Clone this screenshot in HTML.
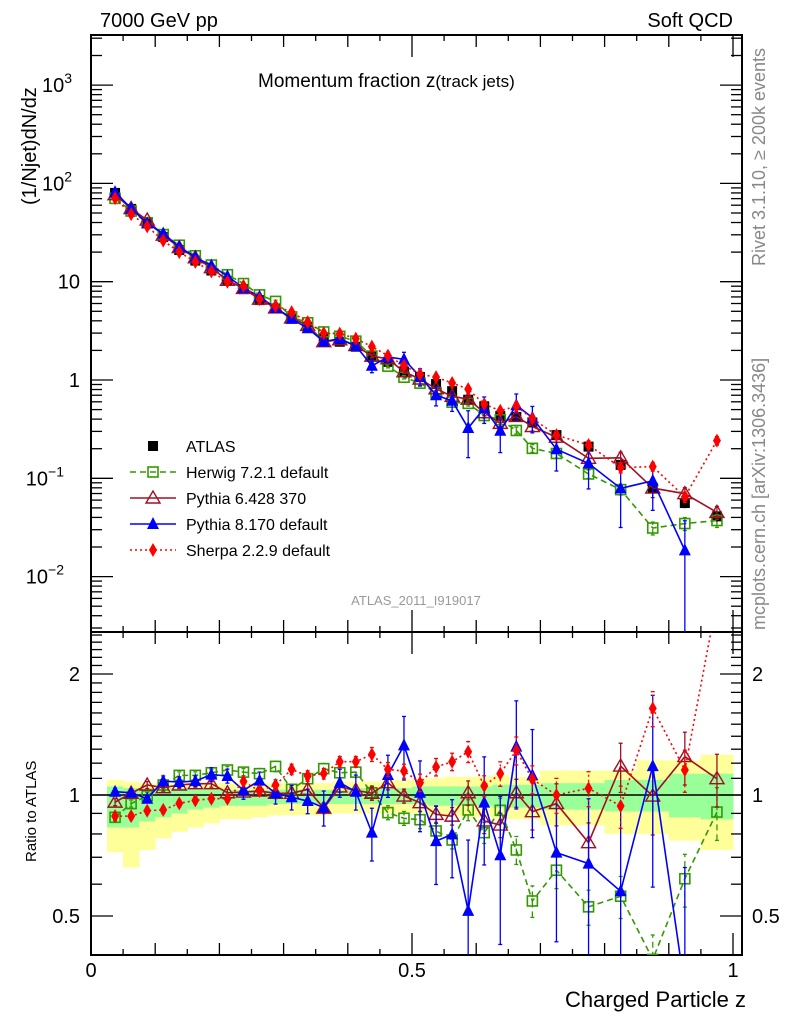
<!DOCTYPE html>
<html><head><meta charset="utf-8"><style>
html,body{margin:0;padding:0;background:#fff;overflow:hidden;width:786px;height:1024px}
svg{display:block;font-family:"Liberation Sans",sans-serif}
</style></head><body>
<svg id="c" width="786" height="1024" viewBox="0 0 786 1024" overflow="hidden">
<defs>
<clipPath id="cm"><rect x="91" y="35" width="651" height="597"/></clipPath>
<clipPath id="cr"><rect x="91" y="632" width="651" height="323"/></clipPath>
</defs>
<g id="bands" clip-path="url(#cr)"></g>
<g id="frames"></g>
<g id="mainMarks" clip-path="url(#cm)"></g>
<g id="ratioMarks" clip-path="url(#cr)"></g>
<text x="100" y="27" font-size="20">7000 GeV pp</text>
<text x="733" y="27" font-size="20" text-anchor="end">Soft QCD</text>
<text x="258" y="87" font-size="19">Momentum fraction z<tspan font-size="17">(track jets)</tspan></text>
<text transform="translate(36,205) rotate(-90)" font-size="20">(1/Njet)dN/dz</text>
<text transform="translate(36,862) rotate(-90)" font-size="15">Ratio to ATLAS</text>
<text transform="translate(765,266) rotate(-90)" font-size="18" fill="#888">Rivet 3.1.10, ≥ 200k events</text>
<text transform="translate(765,630) rotate(-90)" font-size="18" fill="#888">mcplots.cern.ch [arXiv:1306.3436]</text>
<text x="416" y="605" font-size="13" fill="#999" text-anchor="middle">ATLAS_2011_I919017</text>
<text x="746" y="1007" font-size="22" text-anchor="end">Charged Particle z</text>
<g id="legend"></g>
</svg>
<script>
const zc=[0.0375,0.0625,0.0875,0.1125,0.1375,0.1625,0.1875,0.2125,0.2375,0.2625,0.2875,0.3125,0.3375,0.3625,0.3875,0.4125,0.4375,0.4625,0.4875,0.5125,0.5375,0.5625,0.5875,0.6125,0.6375,0.6625,0.6875,0.725,0.775,0.825,0.875,0.925,0.975];
const zw=[0.0125,0.0125,0.0125,0.0125,0.0125,0.0125,0.0125,0.0125,0.0125,0.0125,0.0125,0.0125,0.0125,0.0125,0.0125,0.0125,0.0125,0.0125,0.0125,0.0125,0.0125,0.0125,0.0125,0.0125,0.0125,0.0125,0.0125,0.025,0.025,0.025,0.025,0.025,0.025];
const atlas=[80,55,40,28.5,21,16.4,13,10.2,8.4,6.5,5.35,4.24,3.48,2.65,2.45,2.18,1.73,1.53,1.22,1.07,0.91,0.77,0.63,0.54,0.43,0.42,0.37,0.275,0.21,0.137,0.08,0.056,0.041];
const yelHi=[1.09,1.08,1.07,1.07,1.07,1.07,1.07,1.07,1.07,1.07,1.07,1.07,1.07,1.07,1.08,1.08,1.08,1.08,1.09,1.10,1.10,1.11,1.11,1.11,1.12,1.11,1.11,1.15,1.15,1.15,1.22,1.22,1.26];
const yelLo=[0.72,0.66,0.73,0.78,0.81,0.83,0.85,0.87,0.87,0.88,0.89,0.89,0.89,0.89,0.90,0.90,0.90,0.90,0.90,0.90,0.89,0.89,0.88,0.88,0.87,0.87,0.87,0.84,0.84,0.80,0.80,0.77,0.73];
const grnHi=[1.05,1.04,1.04,1.04,1.04,1.04,1.04,1.03,1.03,1.03,1.03,1.03,1.03,1.03,1.03,1.04,1.04,1.04,1.04,1.05,1.05,1.05,1.05,1.05,1.06,1.06,1.06,1.07,1.07,1.09,1.09,1.13,1.13];
const grnLo=[0.83,0.83,0.86,0.88,0.90,0.92,0.93,0.94,0.94,0.94,0.95,0.95,0.95,0.95,0.95,0.95,0.95,0.95,0.95,0.95,0.94,0.94,0.94,0.94,0.93,0.93,0.93,0.92,0.92,0.91,0.91,0.88,0.87];
const herwigR=[0.88,0.952,0.995,1.059,1.119,1.119,1.136,1.154,1.14,1.13,1.178,1.033,1.098,1.163,1.136,1.14,1.013,0.904,0.875,0.868,0.814,0.773,0.918,0.806,0.916,0.73,0.545,0.65,0.527,0.56,0.39,0.619,0.907];
const pythia6R=[0.96,1.01,1.059,1.043,1.059,1.067,1.067,1.013,1.017,1.023,1.01,1.01,1.033,0.927,1.047,1.027,1.01,1.073,0.994,0.957,0.895,0.886,1.013,0.862,0.842,1.013,0.909,0.952,0.761,1.18,0.994,1.246,1.098];
const pythia8R=[1.019,1.013,0.979,1.083,1.077,1.083,1.124,1.115,1.027,1.086,1.01,0.987,0.966,0.93,1.073,1.019,0.806,1.121,1.329,1.013,0.768,0.798,0.515,0.957,0.708,1.319,1.119,0.719,0.675,0.576,1.18,0.33,null];
const sherpaR=[0.886,0.886,0.914,0.918,0.953,0.97,0.979,0.979,1.081,1.023,1.059,1.158,1.115,1.13,1.21,1.21,1.262,1.158,1.147,1.073,1.174,1.21,1.281,1.053,1.13,1.291,1.094,1.0,1.039,0.939,1.643,1.154,5.9];
const herwigE=[0.02,0.02,0.02,0.02,0.02,0.02,0.02,0.02,0.02,0.03,0.03,0.03,0.03,0.03,0.03,0.03,0.04,0.04,0.04,0.05,0.05,0.05,0.06,0.06,0.07,0.08,0.09,0.1,0.1,0.12,0.15,0.15,0.15];
const pythia6E=[0.02,0.02,0.02,0.02,0.02,0.02,0.02,0.02,0.02,0.02,0.03,0.03,0.03,0.03,0.03,0.03,0.04,0.04,0.04,0.05,0.05,0.05,0.07,0.07,0.07,0.08,0.1,0.12,0.12,0.14,0.2,0.15,0.15];
const pythia8E=[0.02,0.02,0.02,0.03,0.03,0.03,0.04,0.04,0.05,0.05,0.06,0.07,0.07,0.1,0.08,0.1,0.15,0.12,0.18,0.2,0.22,0.22,0.5,0.3,0.4,0.3,0.3,0.4,0.45,0.6,0.5,1.0,0];
const sherpaE=[0.02,0.02,0.02,0.02,0.02,0.02,0.02,0.02,0.02,0.02,0.03,0.03,0.03,0.03,0.03,0.03,0.04,0.04,0.04,0.05,0.05,0.05,0.06,0.06,0.07,0.08,0.08,0.1,0.1,0.12,0.1,0.12,0.1];
const yTicks=[{v:1000,t:'10',e:'3'},{v:100,t:'10',e:'2'},{v:10,t:'10',e:''},{v:1,t:'1',e:''},{v:0.1,t:'10',e:'−1'},{v:0.01,t:'10',e:'−2'}];
const rTicks=[2,1,0.5];
const xTickLabels=['0','0.5','1'];
const xTickVals=[0,0.5,1];

const NS='http://www.w3.org/2000/svg';
function X(z){return 91+642*z;}
function Y(v){return Math.min(700,380-98.3*Math.log10(v));}
function R(r){return Math.min(1000,Math.max(600,795-402*Math.log10(r)));}
function mk(tag,at,par){const e=document.createElementNS(NS,tag);for(const k in at)e.setAttribute(k,at[k]);par.appendChild(e);return e;}
const bands=document.getElementById('bands'),fr=document.getElementById('frames'),mm=document.getElementById('mainMarks'),rm=document.getElementById('ratioMarks'),lg=document.getElementById('legend');

zc.forEach((z,i)=>{
 let a=mk('rect',{x:X(z-zw[i]),y:R(yelHi[i]),width:X(z+zw[i])-X(z-zw[i])+0.5,height:R(yelLo[i])-R(yelHi[i]),fill:'#ffff99'},bands);
 
 
 let b=mk('rect',{x:X(z-zw[i]),y:R(grnHi[i]),width:X(z+zw[i])-X(z-zw[i])+0.5,height:R(grnLo[i])-R(grnHi[i]),fill:'#99ff99'},bands);
 
 
});

let f1=mk('rect',{x:91,y:35,width:651,height:597,fill:'none',stroke:'#000','stroke-width':2},fr);


let f2=mk('rect',{x:91,y:632,width:651,height:323,fill:'none',stroke:'#000','stroke-width':2},fr);


mk('line',{x1:91,x2:742,y1:R(1),y2:R(1),stroke:'#000','stroke-width':1.5},fr);
for(let d=-3;d<=3;d++){for(let m=1;m<10;m++){const v=m*Math.pow(10,d);const y=380-98.3*Math.log10(v);if(y<36||y>631)continue;const L=m==1?22:11;
 mk('line',{x1:91,x2:91+L,y1:y,y2:y,stroke:'#000','stroke-width':1.3},fr);mk('line',{x1:742,x2:742-L,y1:y,y2:y,stroke:'#000','stroke-width':1.3},fr);}}
for(let r=0.4;r<=2.6;r+=0.1){const y=R(r);if(y<633||y>954)continue;const maj=[0.5,1,2].some(q=>Math.abs(q-r)<1e-6);const L=maj?22:11;
 mk('line',{x1:91,x2:91+L,y1:y,y2:y,stroke:'#000','stroke-width':1.3},fr);mk('line',{x1:742,x2:742-L,y1:y,y2:y,stroke:'#000','stroke-width':1.3},fr);}
for(let k=0;k<=20;k++){const z=k*0.05;const x=X(z);const L=k%10==0?22:(k%2==0?12:6);
 mk('line',{x1:x,x2:x,y1:955,y2:955-L,stroke:'#000','stroke-width':1.3},fr);mk('line',{x1:x,x2:x,y1:632,y2:632-L,stroke:'#000','stroke-width':1.3},fr);
 mk('line',{x1:x,x2:x,y1:632,y2:632+L,stroke:'#000','stroke-width':1.3},fr);mk('line',{x1:x,x2:x,y1:35,y2:35+L,stroke:'#000','stroke-width':1.3},fr);}
yTicks.forEach(t=>{const e=mk('text',{x:80,y:Y(t.v)+7,'font-size':20,'text-anchor':'end'},fr);
 
 
 if(t.e){e.textContent=t.t;const s=mk('tspan',{dy:-9,'font-size':14},e);s.textContent=t.e;e.setAttribute('x',80-(t.e.length*8));}else e.textContent=t.t;});
rTicks.forEach(r=>{[[80,'end'],[752,'start']].forEach(p=>{const e=mk('text',{x:p[0],y:R(r)+7,'font-size':20,'text-anchor':p[1]},fr);
 
 
 e.textContent=String(r);});});
xTickVals.forEach((v,i)=>{const e=mk('text',{x:X(v),y:977,'font-size':20,'text-anchor':'middle'},fr);
 
 
 e.textContent=xTickLabels[i];});

function marker(type,x,y,col,par){let e;
 if(type=='sq')e=mk('rect',{x:x-5,y:y-5,width:10,height:10,fill:'#000'},par);
 else if(type=='osq')e=mk('rect',{x:x-5,y:y-5,width:10,height:10,fill:'none',stroke:col,'stroke-width':1.6},par);
 else if(type=='otri')e=mk('polygon',{points:`${x},${y-7} ${x-7},${y+5} ${x+7},${y+5}`,fill:'none',stroke:col,'stroke-width':1.4},par);
 else if(type=='tri')e=mk('polygon',{points:`${x},${y-7} ${x-6},${y+5} ${x+6},${y+5}`,fill:col},par);
 else e=mk('polygon',{points:`${x},${y-7} ${x-4},${y} ${x},${y+7} ${x+4},${y}`,fill:col},par);
 return e;}

const series=[
 {name:'herwig',r:herwigR,e:herwigE,col:'#339900',dash:'6,4',m:'osq',label:'Herwig 7.2.1 default'},
 {name:'pythia6',r:pythia6R,e:pythia6E,col:'#a01025',dash:'',m:'otri',label:'Pythia 6.428 370'},
 {name:'pythia8',r:pythia8R,e:pythia8E,col:'#0000ff',dash:'',m:'tri',label:'Pythia 8.170 default'},
 {name:'sherpa',r:sherpaR,e:sherpaE,col:'#ff0000',dash:'2,3',m:'dia',label:'Sherpa 2.2.9 default'}];

zc.forEach((z,i)=>{const x=X(z);
 mk('line',{x1:x,x2:x,y1:Y(atlas[i]*(1-(1-yelLo[i])*0.5)),y2:Y(atlas[i]*(1+(yelHi[i]-1)*0.5)),stroke:'#000','stroke-width':1.2},mm);
 const p=marker('sq',x,Y(atlas[i]),'#000',mm);
 
 });

series.forEach(s=>{
 [[mm,(i)=>atlas[i]*s.r[i],Y],[rm,(i)=>s.r[i],R]].forEach(([g,val,sc])=>{
  let pts=[];zc.forEach((z,i)=>{if(s.r[i]!=null)pts.push(X(z)+','+sc(val(i)));});
  const l=mk('polyline',{points:pts.join(' '),fill:'none',stroke:s.col,'stroke-width':1.6,'stroke-dasharray':s.dash},g);
  
  
  zc.forEach((z,i)=>{if(s.r[i]==null)return;const x=X(z),v=val(i),e=s.e[i];
   const lo=e>=0.99?1e-6:v*(1-e);
   mk('line',{x1:x,x2:x,y1:sc(lo),y2:sc(v*(1+e)),stroke:s.col,'stroke-width':1.3,'stroke-dasharray':s.dash},g);
   mk('line',{x1:x-2,x2:x+2,y1:sc(v*(1+e)),y2:sc(v*(1+e)),stroke:s.col,'stroke-width':1.3},g);
   if(e<0.99)mk('line',{x1:x-2,x2:x+2,y1:sc(lo),y2:sc(lo),stroke:s.col,'stroke-width':1.3},g);
   const p=marker(s.m,x,sc(v),s.col,g);
   
   });
 });
});

const rows=[{m:'sq',col:'#000',label:'ATLAS',dash:null}].concat(series);
rows.forEach((s,k)=>{const y=446+26*k;
 const g=mk('g',{},lg);
 
 
 if(s.dash!==null)mk('line',{x1:130,x2:176,y1:y,y2:y,stroke:s.col,'stroke-width':1.6,'stroke-dasharray':s.dash},g);
 marker(s.m,153,y,s.col,g);
 const t=mk('text',{x:186,y:y+6,'font-size':16},g);t.textContent=s.label;});
</script>
</body></html>
